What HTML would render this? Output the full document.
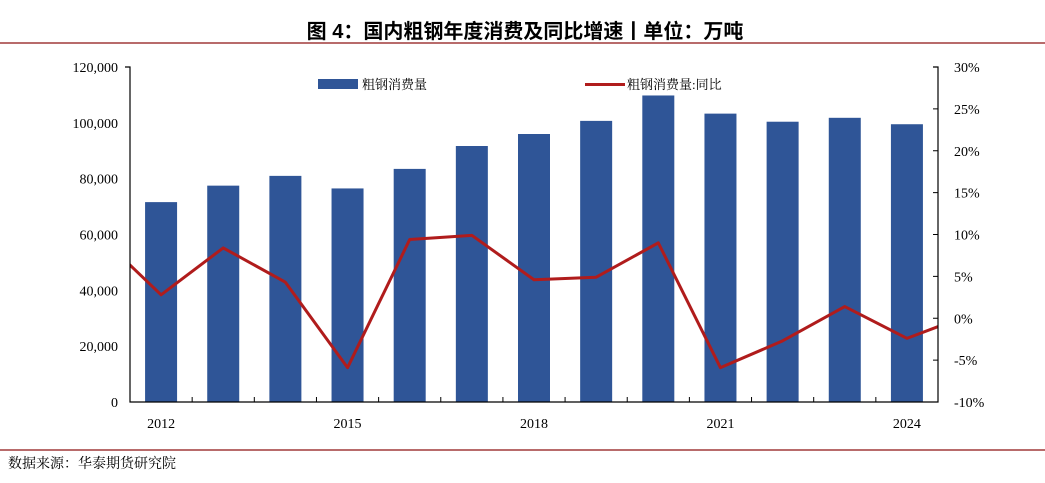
<!DOCTYPE html>
<html><head><meta charset="utf-8"><style>
body{margin:0;background:#fff;width:1045px;height:478px;overflow:hidden;font-family:"Liberation Serif","Noto Serif CJK SC",serif}
</style></head><body>
<svg id="c" width="1045" height="478" xmlns="http://www.w3.org/2000/svg">
<text x="525" y="38" text-anchor="middle" font-size="20" font-weight="bold" font-family="'Liberation Sans','Noto Sans CJK SC',sans-serif">图 4：国内粗钢年度消费及同比增速丨单位：万吨</text>
<rect x="0" y="42" width="1045" height="2" fill="#b86b6b"/>
<rect x="0" y="449" width="1045" height="2" fill="#b86b6b"/>
<text x="8" y="468" font-size="14">数据来源：华泰期货研究院</text>
<g>
<rect x="318" y="79" width="40" height="10" fill="#2f5597"/>
<text x="362" y="89" font-size="13">粗钢消费量</text>
<rect x="585" y="83" width="40" height="3" fill="#b01c1c"/>
<text x="627" y="89" font-size="13">粗钢消费量:同比</text>
</g>
<defs><clipPath id="pc"><rect x="130" y="60" width="808" height="350"/></clipPath></defs>
<g id="bars"></g><g id="line" clip-path="url(#pc)"></g><g id="axes"></g>
</svg>
<script>
const years=[2012,2013,2014,2015,2016,2017,2018,2019,2020,2021,2022,2023,2024];
const consumption=[71600,77500,81000,76500,83500,91700,96000,100700,109800,103300,100400,101800,99500];
const yoy=[2.8,8.4,4.3,-5.9,9.4,9.9,4.6,4.9,9.0,-5.9,-2.7,1.4,-2.4];
const yoyEdge=[9.9,0.4];
const leftTicks=[0,20000,40000,60000,80000,100000,120000];
const rightTicks=[-10,-5,0,5,10,15,20,25,30];
const xLabels=[2012,2015,2018,2021,2024];
const NS="http://www.w3.org/2000/svg";
const X0=130,X1=938,Y0=402,Y1=67,cw=(X1-X0)/years.length;
const xc=i=>X0+cw*(i+0.5);
const yl=v=>Y0-(v/120000)*(Y0-Y1);
const yr=v=>Y0-((v+10)/40)*(Y0-Y1);
function mk(t,a,p){const e=document.createElementNS(NS,t);for(const k in a)e.setAttribute(k,a[k]);p.appendChild(e);return e;}
const bars=document.getElementById('bars'),line=document.getElementById('line'),axes=document.getElementById('axes');
consumption.forEach((v,i)=>{const r=mk('rect',{x:xc(i)-16,y:yl(v),width:32,height:Y0-yl(v),fill:'#2f5597'},bars);

});
const pts=[[xc(-1),yr(yoyEdge[0])]].concat(yoy.map((v,i)=>[xc(i),yr(v)])).concat([[xc(years.length),yr(yoyEdge[1])]]);
const pl=mk('polyline',{points:pts.map(p=>p.join(',')).join(' '),fill:'none',stroke:'#b01c1c','stroke-width':3,'stroke-linejoin':'round'},line);


const ax=mk('path',{d:`M${X0-5},${Y1}H${X0}V${Y0}H${X1}V${Y1}H${X1-5}`,fill:'none',stroke:'#000','stroke-width':1.2},axes);


leftTicks.forEach(v=>{const t=mk('text',{x:X0-12,y:yl(v)+5,'text-anchor':'end','font-size':14},axes);t.textContent=v.toLocaleString('en-US');

});
rightTicks.forEach(v=>{mk('line',{x1:X1-5,x2:X1,y1:yr(v),y2:yr(v),stroke:'#000'},axes);const t=mk('text',{x:X1+16,y:yr(v)+5,'font-size':14},axes);t.textContent=v+'%';

});
for(let i=1;i<years.length;i++)mk('line',{x1:X0+cw*i,x2:X0+cw*i,y1:Y0,y2:Y0-5,stroke:'#000'},axes);
xLabels.forEach(y=>{const i=years.indexOf(y);const t=mk('text',{x:xc(i),y:428,'text-anchor':'middle','font-size':14},axes);t.textContent=y;

});
</script>
</body></html>
